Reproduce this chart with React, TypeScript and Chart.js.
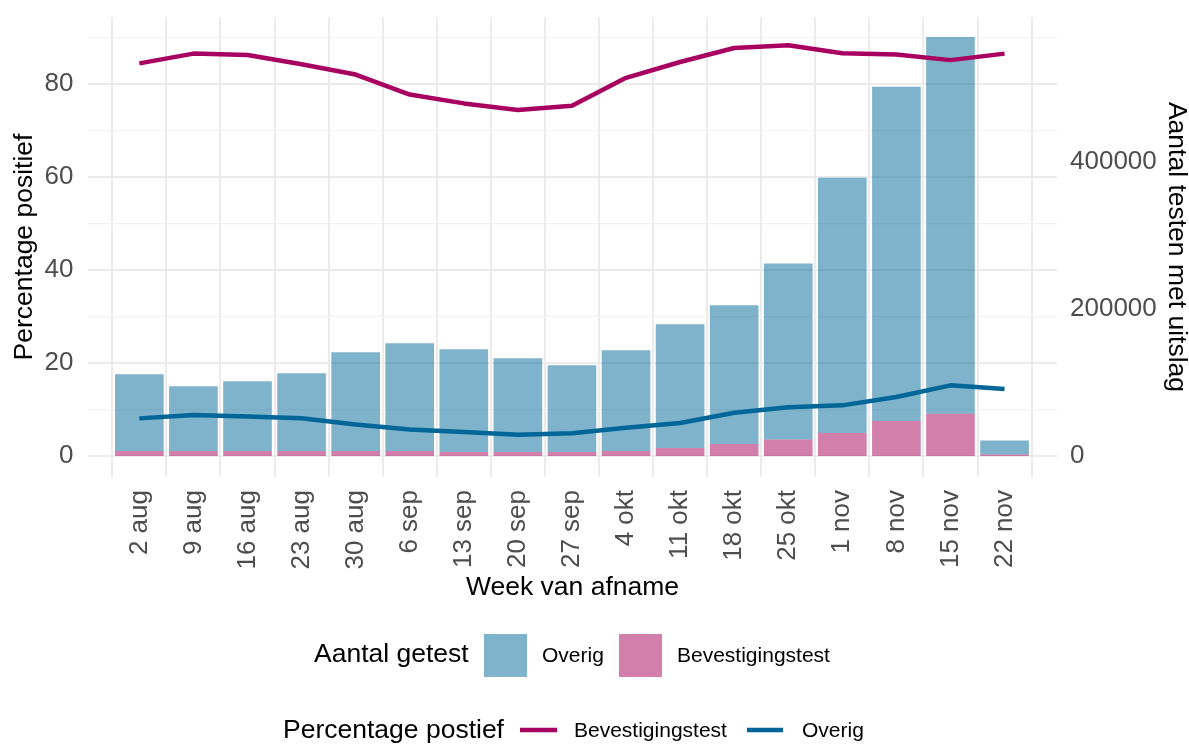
import { useEffect, useRef } from 'react';
import { Chart, registerables } from 'chart.js';

Chart.register(...registerables);

// ---- data ----
const weeks = ['2 aug', '9 aug', '16 aug', '23 aug', '30 aug', '6 sep', '13 sep', '20 sep', '27 sep', '4 okt', '11 okt', '18 okt', '25 okt', '1 nov', '8 nov', '15 nov', '22 nov'];
const bevestigingCount = [6800, 6800, 6800, 6800, 6800, 6800, 5400, 5400, 5400, 6800, 10800, 16300, 22600, 31200, 47500, 57400, 2000];
const overigCount = [104400, 88100, 94900, 105700, 134200, 146400, 139700, 127500, 118000, 136900, 168200, 188500, 239100, 347100, 454200, 512100, 19300];
const bevestigingPct = [84.4, 86.5, 86.2, 84.2, 82.0, 77.7, 75.8, 74.4, 75.3, 81.3, 84.7, 87.7, 88.3, 86.6, 86.3, 85.1, 86.5];
const overigPct = [8.1, 8.8, 8.5, 8.15, 6.8, 5.7, 5.15, 4.6, 4.9, 6.1, 7.1, 9.3, 10.5, 10.9, 12.7, 15.2, 14.4];
const pctTicks = [0, 10, 20, 30, 40, 50, 60, 70, 80, 90];
const countTicks = [0, 200000, 400000];

// ---- scale relation (secondary axis) ----
const K = 6322;
const PCT_MIN = -4.5;
const PCT_MAX = 94.37;

const FONT = "'Liberation Sans', Arial, Helvetica, sans-serif";
const BLUE = 'rgb(0,101,151)';
const BLUE_FILL = 'rgba(0,101,151,0.5)';
const MAG = 'rgb(168,0,96)';
const MAG_FILL = 'rgba(167,0,89,0.5)';
const GRID = '#EBEBEB';
const GRID_MINOR = '#F2F2F2';
const TICK = '#4D4D4D';

const annotations = {
  id: 'annotations',
  afterDraw(chart: any) {
    const ctx: CanvasRenderingContext2D = chart.ctx;
    const area = chart.chartArea;
    const cx = (area.left + area.right) / 2;
    const cy = (area.top + area.bottom) / 2;
    ctx.save();
    ctx.fillStyle = '#000';
    ctx.textBaseline = 'middle';
    ctx.textAlign = 'center';
    ctx.font = `26.5px ${FONT}`;
    ctx.fillText('Week van afname', cx, 588);

    ctx.save();
    ctx.translate(25, cy);
    ctx.rotate(-Math.PI / 2);
    ctx.fillText('Percentage positief', 0, 0);
    ctx.restore();

    ctx.save();
    ctx.translate(1176, cy);
    ctx.rotate(Math.PI / 2);
    ctx.fillText('Aantal testen met uitslag', 0, 0);
    ctx.restore();

    // legend row 1
    ctx.textAlign = 'left';
    ctx.font = `26.5px ${FONT}`;
    ctx.fillText('Aantal getest', 314, 655);
    ctx.fillText('Percentage postief', 283, 731);

    ctx.fillStyle = BLUE_FILL;
    ctx.fillRect(484, 634, 43, 43);
    ctx.fillStyle = MAG_FILL;
    ctx.fillRect(619, 634, 43, 43);

    ctx.fillStyle = '#000';
    ctx.font = `21px ${FONT}`;
    ctx.fillText('Overig', 542, 656);
    ctx.fillText('Bevestigingstest', 677, 656);

    // legend row 2
    ctx.lineWidth = 4.5;
    ctx.lineCap = 'butt';
    ctx.strokeStyle = MAG;
    ctx.beginPath();
    ctx.moveTo(520, 730);
    ctx.lineTo(557, 730);
    ctx.stroke();
    ctx.strokeStyle = BLUE;
    ctx.beginPath();
    ctx.moveTo(747, 730);
    ctx.lineTo(783, 730);
    ctx.stroke();
    ctx.fillText('Bevestigingstest', 574, 731);
    ctx.fillText('Overig', 802, 731);
    ctx.restore();
  },
};

export default function App() {
  const ref = useRef<HTMLCanvasElement | null>(null);

  useEffect(() => {
    document.body.style.margin = '0';
    if (!ref.current) return;
    const xy = (arr: number[]) => arr.map((v, i) => ({ x: i, y: v }));
    const chart = new Chart(ref.current, {
      type: 'bar',
      data: {
        datasets: [
          {
            type: 'line',
            label: 'Bevestigingstest %',
            data: xy(bevestigingPct),
            yAxisID: 'y',
            borderColor: MAG,
            borderWidth: 4.5,
            pointRadius: 0,
            tension: 0,
            borderJoinStyle: 'round',
            order: 0,
          } as any,
          {
            type: 'line',
            label: 'Overig %',
            data: xy(overigPct),
            yAxisID: 'y',
            borderColor: BLUE,
            borderWidth: 4.5,
            pointRadius: 0,
            tension: 0,
            borderJoinStyle: 'round',
            order: 0,
          } as any,
          {
            type: 'bar',
            label: 'Bevestigingstest',
            data: xy(bevestigingCount),
            yAxisID: 'y1',
            backgroundColor: MAG_FILL,
            barPercentage: 0.9,
            categoryPercentage: 1,
            stack: 'counts',
            order: 1,
          } as any,
          {
            type: 'bar',
            label: 'Overig',
            data: xy(overigCount),
            yAxisID: 'y1',
            backgroundColor: BLUE_FILL,
            barPercentage: 0.9,
            categoryPercentage: 1,
            stack: 'counts',
            order: 1,
          } as any,
        ],
      },
      options: {
        responsive: false,
        animation: false,
        devicePixelRatio: 1,
        layout: { padding: { top: 17, left: 0, right: 0, bottom: 0 } },
        plugins: { legend: { display: false }, tooltip: { enabled: false } },
        scales: {
          x: {
            type: 'linear',
            min: -0.95,
            max: 16.97,
            stacked: true,
            offset: false,
            afterBuildTicks: (s: any) => {
              s.ticks = weeks.map((_, i) => ({ value: i }));
            },
            afterFit: (s: any) => {
              s.height = 267;
              s.paddingLeft = 0;
              s.paddingRight = 0;
            },
            ticks: {
              autoSkip: false,
              minRotation: 90,
              maxRotation: 90,
              padding: 13,
              color: TICK,
              font: { family: FONT, size: 26 },
              callback: (v: any) => weeks[Math.round(Number(v))] ?? '',
            },
            grid: { color: GRID, lineWidth: 2, drawTicks: false },
            border: { display: false },
          },
          y: {
            type: 'linear',
            position: 'left',
            min: PCT_MIN,
            max: PCT_MAX,
            afterBuildTicks: (s: any) => {
              s.ticks = pctTicks.map((v) => ({ value: v }));
            },
            afterFit: (s: any) => {
              s.width = 88;
              s.paddingTop = 0;
              s.paddingBottom = 0;
            },
            ticks: {
              padding: 14.5,
              color: TICK,
              font: { family: FONT, size: 26 },
              callback: (v: any) => (Number(v) % 20 === 0 ? String(v) : ''),
            },
            grid: {
              drawTicks: false,
              color: (c: any) => (c.tick && c.tick.value % 20 === 0 ? GRID : GRID_MINOR),
              lineWidth: (c: any) => (c.tick && c.tick.value % 20 === 0 ? 2 : 1.2),
            },
            border: { display: false },
          },
          y1: {
            type: 'linear',
            position: 'right',
            min: PCT_MIN * K,
            max: PCT_MAX * K,
            stacked: true,
            afterBuildTicks: (s: any) => {
              s.ticks = countTicks.map((v) => ({ value: v }));
            },
            afterFit: (s: any) => {
              s.width = 132;
              s.paddingTop = 0;
              s.paddingBottom = 0;
            },
            ticks: {
              padding: 13,
              color: TICK,
              font: { family: FONT, size: 26 },
              callback: (v: any) => String(v),
            },
            grid: { display: false, drawTicks: false },
            border: { display: false },
          },
        },
      } as any,
      plugins: [annotations],
    });
    return () => chart.destroy();
  }, []);

  return (
    <div style={{ width: 1189, height: 744, position: 'relative', background: '#fff' }}>
      <canvas ref={ref} width={1189} height={744} style={{ display: 'block', width: 1189, height: 744 }} />
    </div>
  );
}
